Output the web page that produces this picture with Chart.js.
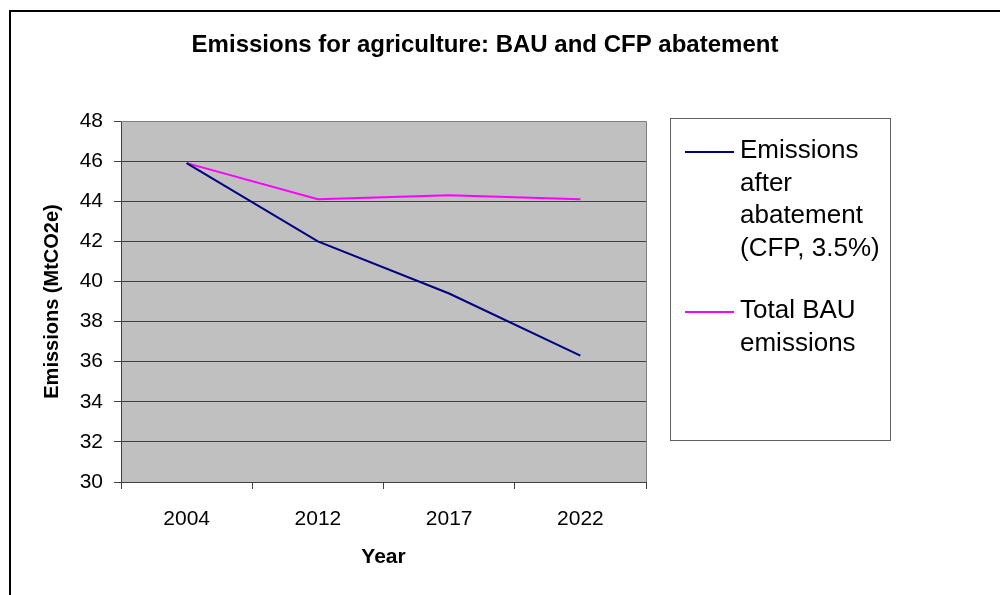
<!DOCTYPE html>
<html>
<head>
<meta charset="utf-8">
<script src="https://cdn.jsdelivr.net/npm/chart.js@4"></script>
<style>
  html, body { margin: 0; padding: 0; background: #fff; }
  #wrap { position: relative; width: 1000px; height: 595px; }
</style>
</head>
<body>
<div id="wrap"><canvas id="emissionsChart"></canvas></div>
<script>
// Chart data
const chartTitle = 'Emissions for agriculture: BAU and CFP abatement';
const years = ['2004', '2012', '2017', '2022'];
const afterAbatement = [45.9, 42.0, 39.4, 36.3];
const totalBAU = [45.9, 44.1, 44.3, 44.1];
const seriesLabels = [
    ['Emissions', 'after', 'abatement', '(CFP, 3.5%)'],
    ['Total BAU', 'emissions']
];
const yMin = 30, yMax = 48, yStep = 2;

const FONT = '"Liberation Sans", Arial, sans-serif';

// Background, outer frame, title and the boxed legend
const framePlugin = {
    id: 'framePlugin',
    beforeDraw(chart) {
        const { ctx, chartArea: a } = chart;
        ctx.save();
        ctx.fillStyle = '#c0c0c0';
        ctx.fillRect(a.left, a.top, a.width, a.height);
        ctx.restore();
    },
    beforeDatasetsDraw(chart) {
        const { ctx, chartArea: a } = chart;
        ctx.save();
        ctx.strokeStyle = '#808080';
        ctx.lineWidth = 1;
        ctx.beginPath();
        ctx.moveTo(a.left, a.top + 0.5);
        ctx.lineTo(a.right + 0.5, a.top + 0.5);
        ctx.lineTo(a.right + 0.5, a.bottom);
        ctx.stroke();
        ctx.restore();
    },
    afterDraw(chart) {
        const ctx = chart.ctx;
        ctx.save();
        ctx.strokeStyle = '#000';
        ctx.lineWidth = 2;
        ctx.strokeRect(10, 11, 1000, 600);

        ctx.fillStyle = '#000';
        ctx.font = 'bold 24px ' + FONT;
        ctx.textAlign = 'center';
        ctx.textBaseline = 'middle';
        ctx.fillText(chartTitle, 485, 45);

        // legend box
        ctx.strokeStyle = '#606060';
        ctx.lineWidth = 1;
        ctx.strokeRect(670.5, 118.5, 220, 322);
        ctx.font = '26px ' + FONT;
        ctx.textAlign = 'left';
        const starts = [150, 310];
        chart.data.datasets.forEach((ds, i) => {
            const y0 = starts[i];
            ctx.strokeStyle = ds.borderColor;
            ctx.lineWidth = 2;
            ctx.beginPath();
            ctx.moveTo(685, y0 + 2);
            ctx.lineTo(734, y0 + 2);
            ctx.stroke();
            ds.label.forEach((line, j) => {
                ctx.fillText(line, 740, y0 + 1 + j * 32.5);
            });
        });
        ctx.restore();
    }
};

const ctx = document.getElementById('emissionsChart').getContext('2d');
const chart = new Chart(ctx, {
    type: 'line',
    data: {
        labels: years,
        datasets: [{
            label: seriesLabels[0],
            data: afterAbatement,
            borderColor: '#000080',
            borderWidth: 2,
            pointRadius: 0,
            tension: 0
        }, {
            label: seriesLabels[1],
            data: totalBAU,
            borderColor: '#ff00ff',
            borderWidth: 2,
            pointRadius: 0,
            tension: 0
        }]
    },
    options: {
        responsive: true,
        maintainAspectRatio: false,
        animation: false,
        layout: { padding: { left: 0, right: 354, top: 121, bottom: 0 } },
        plugins: {
            legend: { display: false },
            title: { display: false },
            tooltip: { enabled: false }
        },
        scales: {
            x: {
                offset: true,
                afterFit(scale) { scale.height = 113; },
                grid: {
                    offset: true,
                    drawOnChartArea: false,
                    drawTicks: true,
                    tickLength: 7,
                    color: '#404040'
                },
                border: { color: '#404040', width: 1 },
                ticks: {
                    color: '#000',
                    padding: 18,
                    font: { family: FONT, size: 21 }
                },
                title: {
                    display: true,
                    text: 'Year',
                    color: '#000',
                    font: { family: FONT, size: 21, weight: 'bold' },
                    padding: { top: 0, bottom: 25 }
                }
            },
            y: {
                min: yMin,
                max: yMax,
                afterFit(scale) { scale.width = 121; },
                grid: {
                    color: '#404040',
                    tickLength: 7
                },
                border: { color: '#404040', width: 1 },
                ticks: {
                    stepSize: yStep,
                    color: '#000',
                    padding: 11,
                    font: { family: FONT, size: 21 }
                },
                title: {
                    display: true,
                    text: 'Emissions (MtCO2e)',
                    color: '#000',
                    font: { family: FONT, size: 20, weight: 'bold' },
                    padding: { top: 40, bottom: 0 }
                }
            }
        }
    },
    plugins: [framePlugin]
});
</script>
</body>
</html>
